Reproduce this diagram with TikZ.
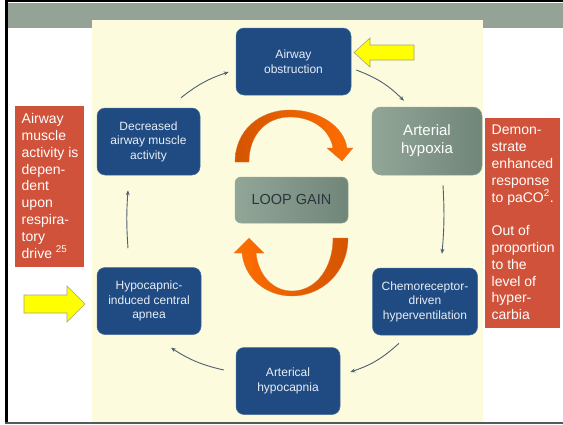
\documentclass[tikz,border=0pt]{standalone}
\usepackage{fontspec}
\setmainfont{Liberation Sans}
\usetikzlibrary{calc,arrows.meta}
\definecolor{cream}{RGB}{253,251,222}
\definecolor{band}{RGB}{148,163,150}
\definecolor{nodeblue}{RGB}{31,75,130}
\definecolor{nodeedge}{RGB}{70,108,155}
\definecolor{txtblue}{RGB}{232,238,246}
\definecolor{redbox}{RGB}{208,82,58}
\definecolor{graylight}{RGB}{146,166,152}
\definecolor{graydark}{RGB}{112,134,121}
\definecolor{loopgaintext}{RGB}{43,52,64}
\definecolor{conncol}{RGB}{80,96,112}
\definecolor{orangedark}{RGB}{212,84,0}
\definecolor{orangelight}{RGB}{255,110,0}
\definecolor{yel}{RGB}{255,255,0}
\definecolor{yeledge}{RGB}{165,165,120}
\begin{document}
\begin{tikzpicture}[x=1pt,y=-1pt,
  bluebox/.style={rectangle,rounded corners=8pt,fill=nodeblue,draw=nodeedge,line width=0.5pt,
    text=txtblue,align=center,font=\fontsize{12}{14.5}\selectfont,inner sep=0pt,minimum height=67pt},
  graybox/.style={rectangle,rounded corners=9pt,left color=graylight,right color=graydark,
    draw=graylight,line width=0.5pt,align=center,inner sep=0pt},
  conn/.style={draw=conncol,line width=0.9pt,-{Stealth[length=5pt,width=4pt]}},
  redtext/.style={anchor=north west,align=left,text=white,font=\fontsize{14}{16.8}\selectfont,inner sep=0pt},
  yarrow/.style={fill=yel,draw=yeledge,line width=0.6pt}]
\useasboundingbox (0,0) rectangle (563,424);
\fill[white] (0,0) rectangle (563,424);
\fill[band] (7,3) rectangle (563,28);
\fill[cream] (92,20) rectangle (483,424);
\draw[black,line width=2.5pt] (6.5,0) -- (6.5,424);
\draw[black,line width=2.5pt] (5,1.2) -- (563,1.2);
\draw[black!65,line width=2pt] (5,423) -- (563,423);

% nodes
\node[bluebox,minimum width=115pt] (airway) at (293.5,61.5) {Airway\\obstruction};
\node[graybox,minimum width=110pt,minimum height=68pt,font=\fontsize{15}{18}\selectfont,text=white] (hypoxia) at (427,141) {Arterial\\hypoxia};
\node[bluebox,minimum width=105pt] (chemo) at (425,301.5) {Chemoreceptor-\\driven\\hyperventilation};
\node[bluebox,minimum width=104pt] (hypocap) at (288,381) {Arterical\\hypocapnia};
\node[bluebox,minimum width=104pt] (apnea) at (149,301) {Hypocapnic-\\induced central\\apnea};
\node[bluebox,minimum width=103pt] (decr) at (148.5,141.5) {Decreased\\airway muscle\\activity};
\node[graybox,minimum width=113pt,minimum height=46pt,rounded corners=6pt,font=\fontsize{14.5}{17}\selectfont,text=loopgaintext] (loop) at (291.5,200) {LOOP GAIN};

% connectors
\draw[conn] ($(airway.east)+(5,8.5)$) to[bend left=12] ($(hypoxia.north)+(-23,-6)$);
\draw[conn] ($(hypoxia.south)+(16,10)$) to[bend left=4] ($(chemo.north)+(17,-14)$);
\draw[conn] ($(chemo.south)+(-26,8)$) to[bend left=12] ($(hypocap.east)+(10,-9)$);
\draw[conn] ($(hypocap.west)+(-12,-11)$) to[bend left=10] ($(apnea.south)+(22,13)$);
\draw[conn] ($(apnea.north)+(-21,-19)$) to[bend left=4] ($(decr.south)+(-20.5,15)$);
\draw[conn] ($(decr.north)+(32.5,-10)$) to[bend left=10] ($(airway.west)+(-7,10.5)$);

% orange loop arrows
\shade[left color=orangedark,right color=orangelight,draw=orangedark!80!white,line width=0.3pt]
  (235,162) .. controls (235,131) and (259,110) .. (290,110)
  .. controls (320,110) and (344,127) .. (347,148) -- (353,148) -- (342,161) -- (327,148) -- (333,148)
  .. controls (330,130) and (313,117) .. (290,117)
  .. controls (266,117) and (249,135) .. (249,162) -- cycle;
\shade[left color=orangelight,right color=orangedark,draw=orangedark!80!white,line width=0.3pt]
  (348,238) .. controls (348,272) and (322,296) .. (292,296)
  .. controls (264,296) and (244,276) .. (242,253) -- (234,253) -- (249,238) -- (264,253) -- (256,253)
  .. controls (258,274) and (272,291) .. (292,291)
  .. controls (316,291) and (333,268) .. (333,238) -- cycle;

% yellow arrows
\filldraw[yarrow] (354,52.5) -- (370,38) -- (370,45) -- (414,45) -- (414,60) -- (370,60) -- (370,67) -- cycle;
\filldraw[yarrow] (85,304) -- (67,286) -- (67,295) -- (24,295) -- (24,313) -- (67,313) -- (67,322) -- cycle;

% red text boxes
\fill[redbox] (15,106) rectangle (84,267);
\node[redtext] (lefttext) at (21.5,113.3) {Airway\\muscle\\activity is\\depen-\\dent\\upon\\respira-\\tory\\drive \textsuperscript{25}};
\fill[redbox] (485,118) rectangle (560,328);
\node[redtext] (righttext) at (491.5,125) {Demon-\\strate\\enhanced\\response\\to paCO\textsuperscript{2}.\\[16.8pt]Out of\\proportion\\to the\\level of\\hyper-\\carbia};
\end{tikzpicture}
\end{document}
